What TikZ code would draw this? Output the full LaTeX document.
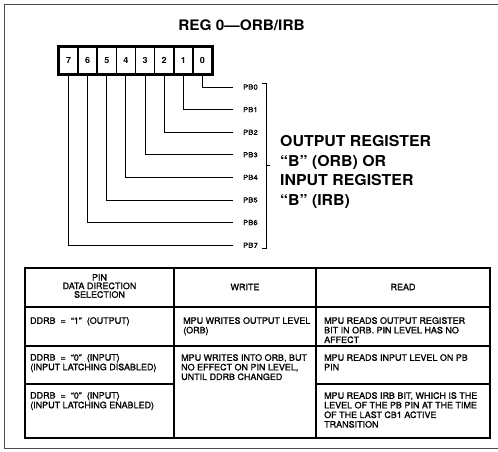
\documentclass[tikz,border=0pt]{standalone}
\usepackage{fontspec}
\setmainfont{TeX Gyre Heros}
\newfontfamily\bigfont{TeX Gyre Heros}[FakeStretch=1.06]
\newfontfamily\tabfont{TeX Gyre Heros}[FakeBold=1.3,FakeStretch=1.02]
\newfontfamily\pbfont{TeX Gyre Heros}[FakeBold=1.2,FakeStretch=1.1]
\begin{document}
\begin{tikzpicture}[x=1pt,y=-1pt,
  frame/.style={draw=black!70, line width=0.8pt},
  lead/.style={draw, line width=0.9pt},
  tline/.style={draw, line width=1.5pt},
  bitcell/.style={draw, line width=1.7pt, fill=white, minimum width=19.125pt, minimum height=27pt, inner sep=0pt, font=\bigfont\bfseries\fontsize{8.5}{8.5}\selectfont},
  pblabel/.style={anchor=west, inner sep=0pt, font=\pbfont\fontsize{7}{7}\selectfont},
  bigtext/.style={anchor=north west, inner sep=0pt, align=left, font=\bigfont\bfseries\fontsize{15}{19.5}\selectfont},
  titletext/.style={inner sep=0pt, font=\bigfont\bfseries\fontsize{14.5}{14.5}\selectfont},
  celltext/.style={anchor=north west, inner sep=0pt, align=left, font=\tabfont\fontsize{8.8}{9.6}\selectfont},
  headtext/.style={inner sep=0pt, align=center, font=\tabfont\fontsize{8.8}{8.6}\selectfont}
]
\useasboundingbox (0,0) rectangle (498,452);
% outer frame
\draw[frame] (498,4) -- (4,4) -- (4,448) -- (498,448);
% title
\node[titletext] (title) at (241.5,25) {REG 0—ORB/IRB};
% register cells
\foreach \i in {0,...,7}{
  \pgfmathtruncatemacro{\b}{7-\i}
  \node[bitcell] (bit\b) at ({59+19.125*(\i+0.5)},60.5) {\b};
}
\draw[line width=2.6pt] (bit7.north west) rectangle (bit0.south east);
% leads and labels
\foreach \k in {0,...,7}{
  \coordinate (e\k) at (233,{87+22.6*\k});
  \draw[lead] (bit\k.south) |- (e\k);
  \node[pblabel] (pb\k) at (243,{87+22.6*\k}) {PB\k};
}
% bracket
\coordinate (brtop) at (266,83);
\coordinate (brbot) at (266,248);
\coordinate (brmid) at (266,165.5);
\draw[lead] ([xshift=-4pt]brtop) -- (brtop) -- (brbot) -- ([xshift=-4pt]brbot);
\draw[lead] (brmid) -- ([xshift=4pt]brmid);
\node[bigtext] (orb) at (280,135.5) {OUTPUT REGISTER\\“B” (ORB) OR\\INPUT REGISTER\\“B” (IRB)};
% table
\def\tL{25}\def\tA{174}\def\tB{316}\def\tR{490}
\def\tT{268}\def\tH{307}\def\tX{346}\def\tY{384}\def\tZ{438}
\draw[line width=1.9pt] (\tL,\tT) rectangle (\tR,\tZ);
\draw[tline] (\tL,\tH) -- (\tR,\tH);
\draw[tline] (\tL,\tX) -- (\tR,\tX);
\draw[tline] (\tL,\tY) -- (\tA,\tY);
\draw[tline] (\tB,\tY) -- (\tR,\tY);
\draw[tline] (\tA,\tT) -- (\tA,\tZ);
\draw[tline] (\tB,\tT) -- (\tB,\tZ);
\node[headtext] (h1) at (99.5,286) {PIN\\DATA DIRECTION\\SELECTION};
\node[headtext] (h2) at (245,287) {WRITE};
\node[headtext] (h3) at (403,287) {READ};
\node[celltext] (r1c1) at (30,317) {DDRB \ = \ “1” \ (OUTPUT)};
\node[celltext] (r1c2) at (183,317) {MPU WRITES OUTPUT LEVEL\\(ORB)};
\node[celltext] (r1c3) at (324,317) {MPU READS OUTPUT REGISTER\\BIT IN ORB. PIN LEVEL HAS NO\\AFFECT};
\node[celltext] (r2c1) at (30,354) {DDRB \ = \ “0” \ (INPUT)\\(INPUT LATCHING DISABLED)};
\node[celltext] (r2c2) at (181,354) {MPU WRITES INTO ORB, BUT\\NO EFFECT ON PIN LEVEL,\\UNTIL DDRB CHANGED};
\node[celltext] (r2c3) at (324,354) {MPU READS INPUT LEVEL ON PB\\PIN};
\node[celltext] (r3c1) at (30,392) {DDRB \ = \ “0” \ (INPUT)\\(INPUT LATCHING ENABLED)};
\node[celltext] (r3c3) at (324,392) {MPU READS IRB BIT, WHICH IS THE\\LEVEL OF THE PB PIN AT THE TIME\\OF THE LAST CB1 ACTIVE\\TRANSITION};
\end{tikzpicture}
\end{document}
